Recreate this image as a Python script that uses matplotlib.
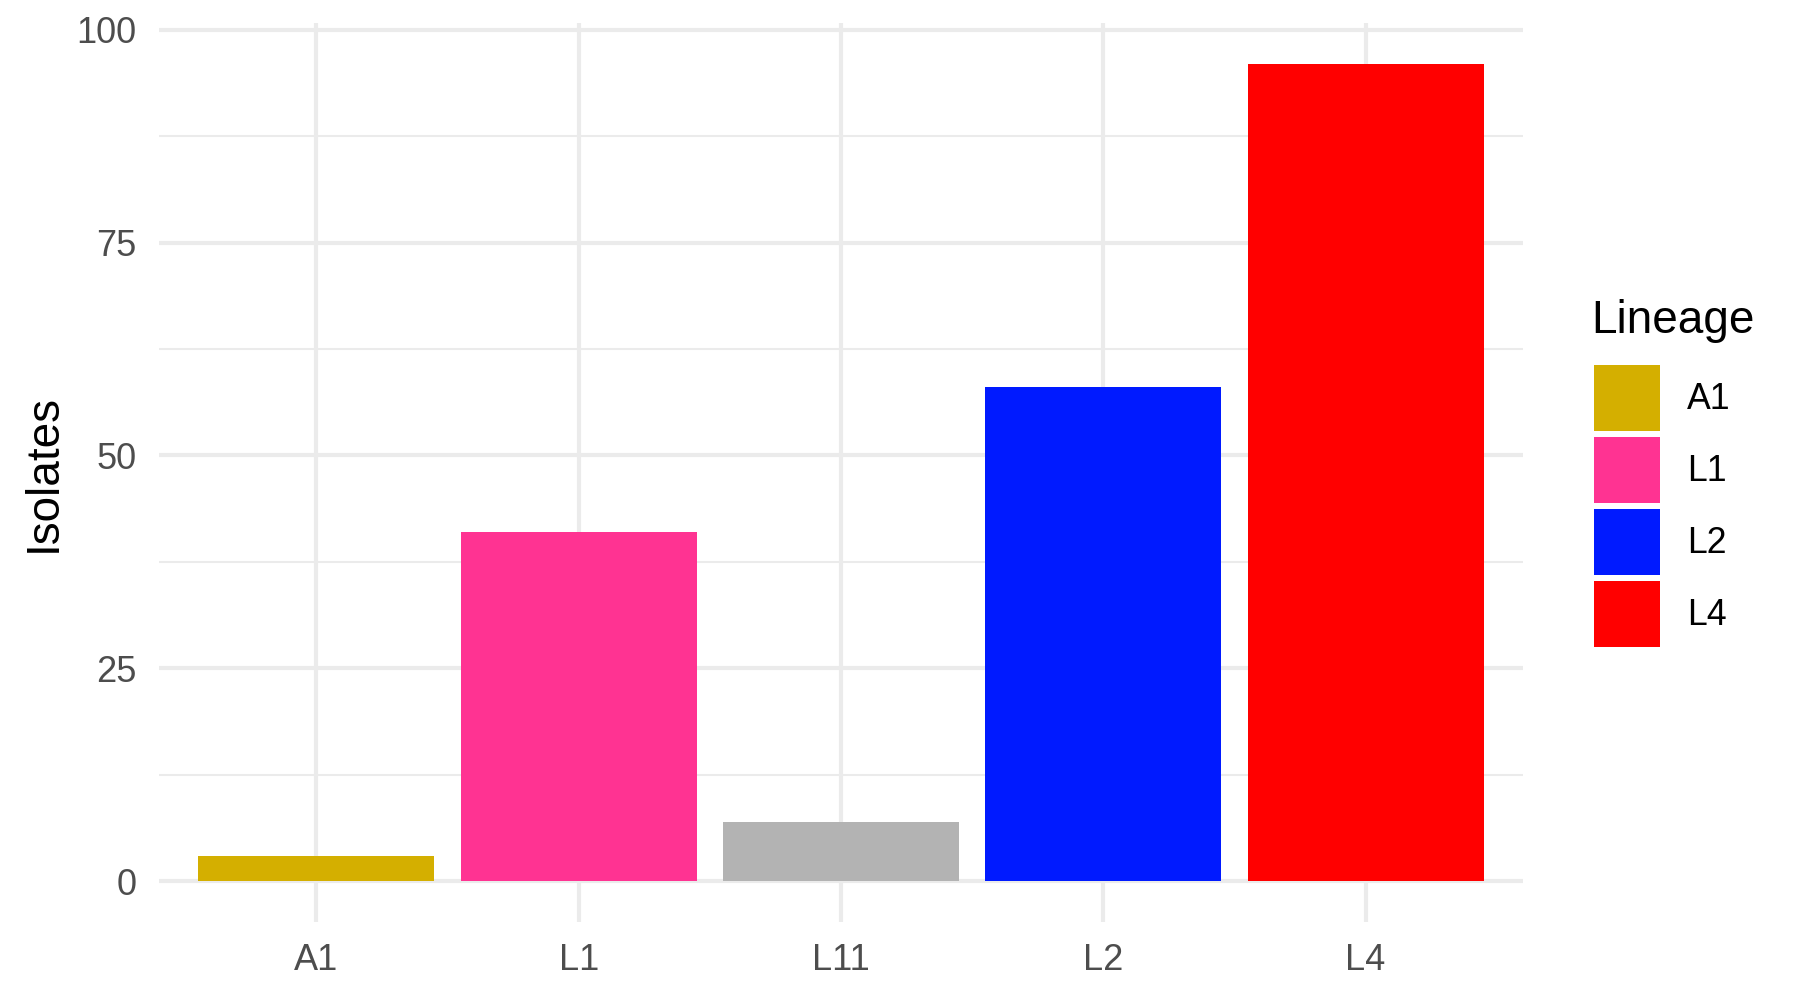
import matplotlib
matplotlib.use("Agg")
import matplotlib.pyplot as plt
from matplotlib.patches import Patch

# Isolates per lineage
lineages = ["A1", "L1", "L11", "L2", "L4"]
isolates = [3, 41, 7, 58, 96]
bar_colors = ["#D4AF00", "#FF3392", "#B3B3B3", "#001AFF", "#FF0000"]

# legend only lists these (L11 is left out in the original)
legend_labels = ["A1", "L1", "L2", "L4"]
legend_colors = ["#D4AF00", "#FF3392", "#001AFF", "#FF0000"]

y_ticks = [0, 25, 50, 75, 100]
y_minor = [12.5, 37.5, 62.5, 87.5]

plt.rcParams["font.family"] = ["Liberation Sans", "DejaVu Sans"]

fig = plt.figure(figsize=(18, 10), dpi=100)
ax = fig.add_axes([159 / 1800, 1 - 922 / 1000, (1523 - 159) / 1800, (922 - 23) / 1000])

x = list(range(len(lineages)))
ax.bar(x, isolates, width=0.9, color=bar_colors, zorder=3)

# ggplot-style expansion
ymax = max(isolates)
ax.set_xlim(-0.6, len(lineages) - 0.4)
ax.set_ylim(-0.05 * ymax, ymax * 1.05)

ax.set_xticks(x)
ax.set_xticklabels(lineages)
ax.set_yticks(y_ticks)
ax.set_yticks(y_minor, minor=True)

grid_col = "#EBEBEB"
ax.grid(True, which="major", color=grid_col, linewidth=3.0, zorder=0)
ax.grid(True, which="minor", axis="y", color=grid_col, linewidth=1.5, zorder=0)
ax.set_axisbelow(True)

for s in ax.spines.values():
    s.set_visible(False)
ax.tick_params(which="both", length=0)
ax.tick_params(axis="both", labelsize=26, labelcolor="#4D4D4D")
ax.tick_params(axis="y", pad=16)
ax.tick_params(axis="x", pad=15)

ax.set_ylabel("Isolates", fontsize=33, color="black", labelpad=8)

# legend title drawn separately so the gap to the keys matches
fig.text(1591 / 1800, 1 - 333 / 1000, "Lineage", fontsize=33,
         ha="left", va="baseline")

handles = [Patch(facecolor=c, edgecolor="none") for c in legend_colors]
leg = fig.legend(
    handles, legend_labels,
    loc="upper left",
    bbox_to_anchor=(1594 / 1800, 1 - 365 / 1000),
    frameon=False,
    fontsize=25.7,
    handlelength=1.85,
    handleheight=2.467,
    labelspacing=0.17,
    handletextpad=0.76,
    borderpad=0,
    borderaxespad=0,
)

fig.savefig("out.png", dpi=100, facecolor="white")
